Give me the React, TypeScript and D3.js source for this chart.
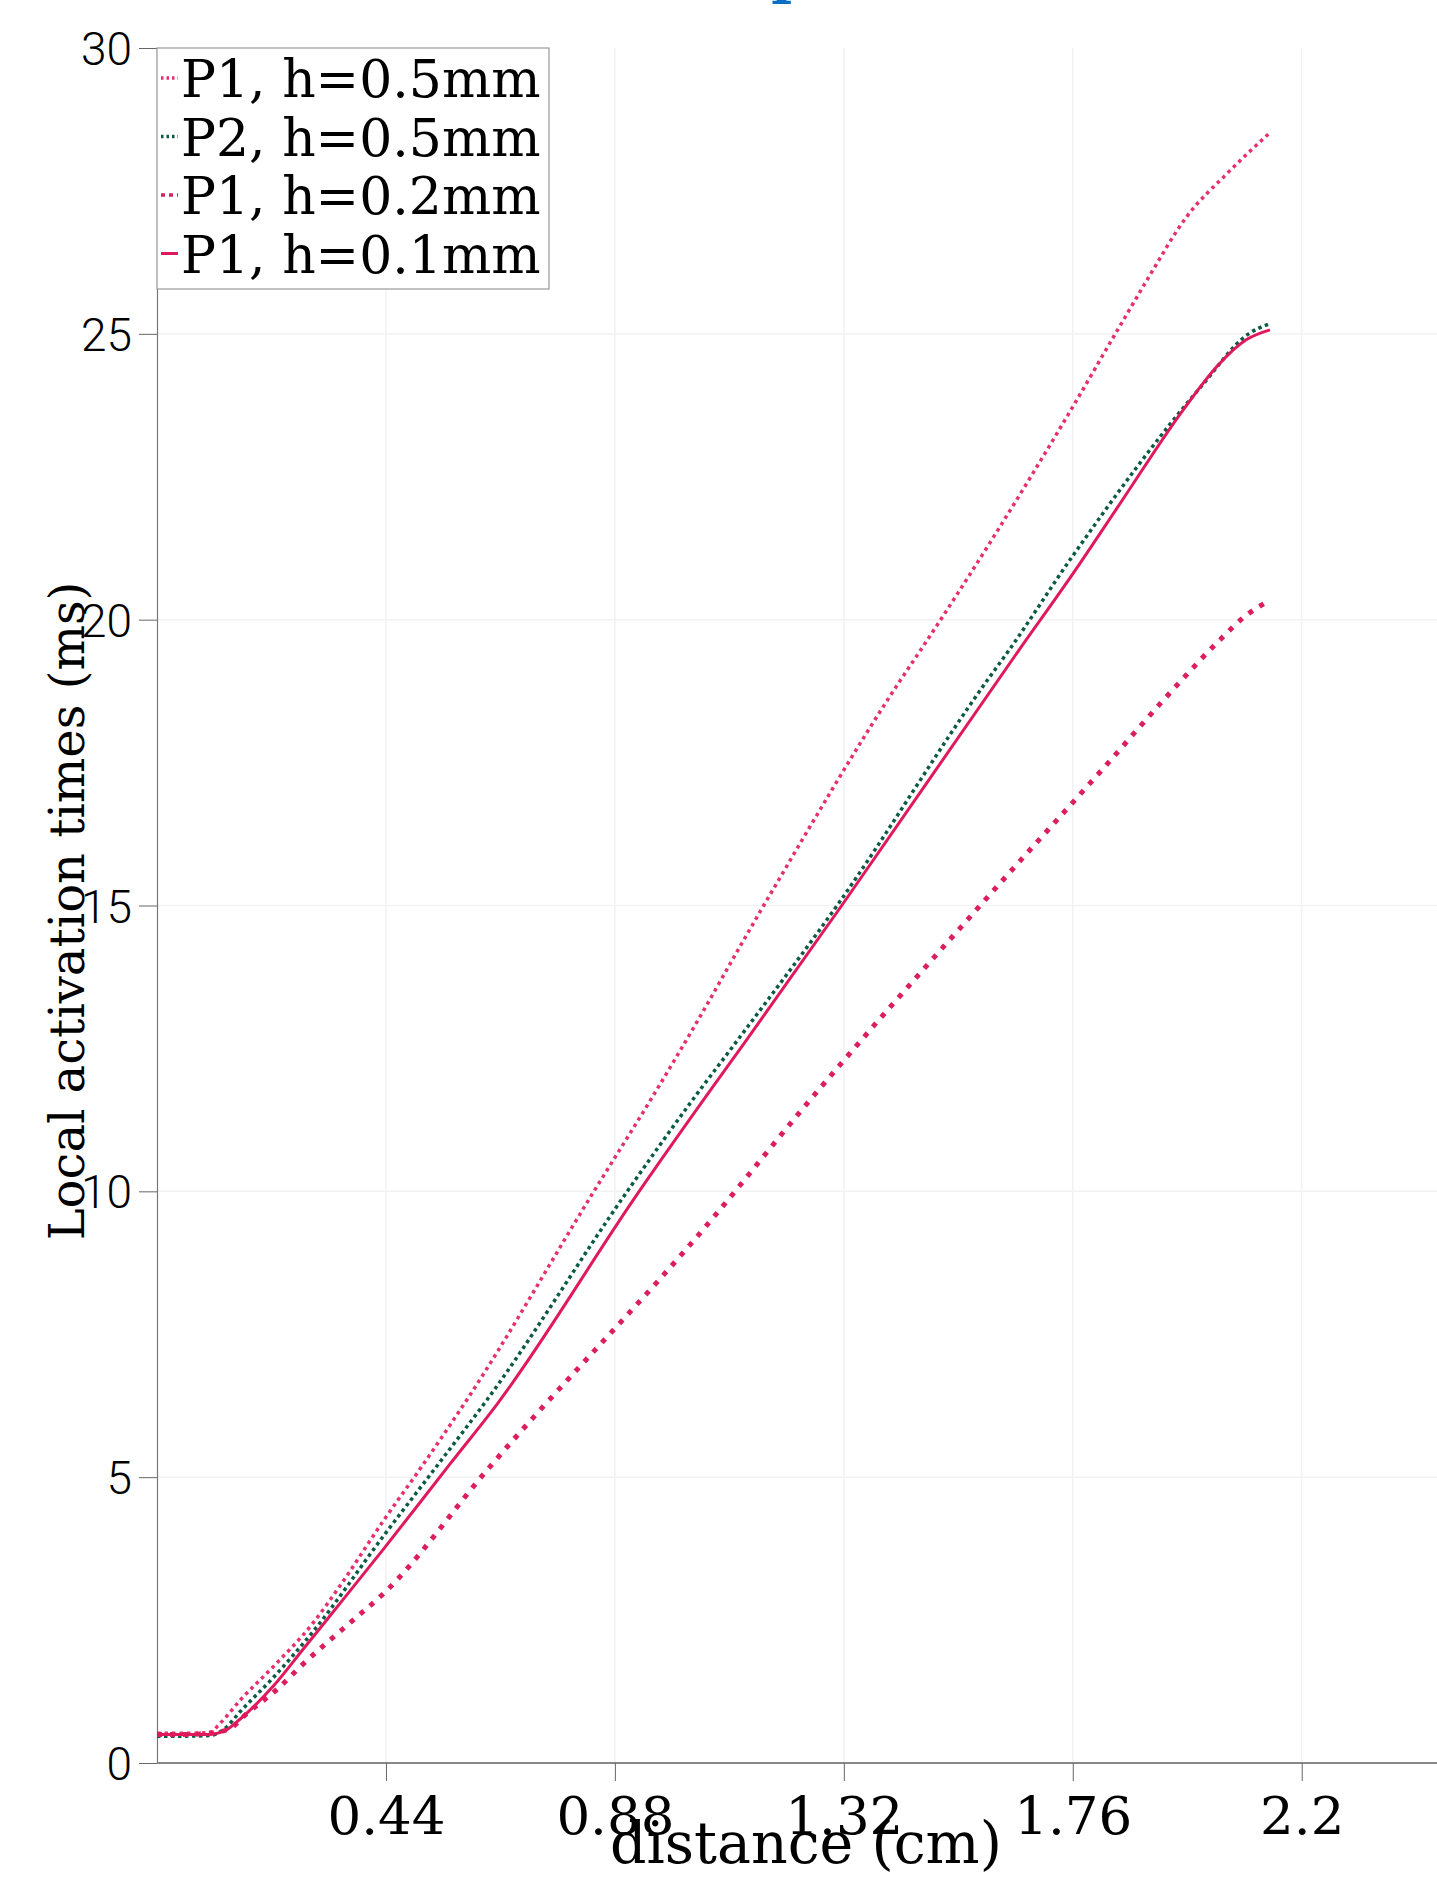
import React, { useRef, useEffect } from "react";
import * as d3 from "d3";

const width = 1437;
const height = 1887;

// tick values
const xTicks = [0.44, 0.88, 1.32, 1.76, 2.2];
const yTicks = [0, 5, 10, 15, 20, 25, 30];

// [distance (cm), local activation time (ms)]
const p1h05 = [
  [0, 0.52], [0.05, 0.52], [0.1, 0.53], [0.122, 0.7], [0.16, 1.1], [0.224, 1.69],
  [0.3, 2.45], [0.351, 3.09], [0.436, 4.25], [0.506, 5.15], [0.596, 6.36],
  [0.839, 9.99], [0.948, 11.59], [1.006, 12.47], [1.166, 15.0], [1.428, 18.93],
  [1.467, 19.46], [1.752, 23.6], [1.845, 25.05], [1.902, 25.93], [1.979, 27.05],
  [2.056, 27.8], [2.139, 28.52],
];
const p2h05 = [
  [0, 0.47], [0.05, 0.47], [0.1, 0.48], [0.13, 0.6], [0.16, 0.9], [0.224, 1.5],
  [0.3, 2.3], [0.436, 3.98], [0.545, 5.28], [0.634, 6.35], [0.903, 9.99],
  [1.031, 11.62], [1.108, 12.55], [1.307, 15.0], [1.595, 18.93], [1.637, 19.46],
  [1.758, 21.09], [2.005, 24.06], [2.098, 25.0], [2.139, 25.18],
];
const p1h02 = [
  [0, 0.5], [0.05, 0.5], [0.1, 0.52], [0.14, 0.6], [0.167, 0.82], [0.237, 1.34],
  [0.276, 1.69], [0.368, 2.43], [0.436, 2.97], [0.634, 5.12], [1.07, 9.55],
  [1.236, 11.39], [1.582, 15.0], [1.809, 17.3], [1.973, 18.98], [2.043, 19.65],
  [2.094, 20.08], [2.133, 20.31],
];
const p1h01 = [
  [0, 0.5], [0.05, 0.5], [0.1, 0.5], [0.13, 0.56], [0.16, 0.77], [0.224, 1.35],
  [0.28, 1.98], [0.333, 2.58], [0.436, 3.75], [0.564, 5.24], [0.653, 6.27],
  [0.926, 9.99], [1.063, 11.76], [1.127, 12.57], [1.316, 15.0], [1.656, 19.46],
  [1.76, 20.8], [1.845, 21.95], [1.973, 23.68], [2.037, 24.43], [2.094, 24.9],
  [2.139, 25.07],
];
const seriesNames = ["P1, h=0.5mm", "P2, h=0.5mm", "P1, h=0.2mm", "P1, h=0.1mm"];
const seriesData = [p1h05, p2h05, p1h02, p1h01];

const seriesStyle = [
  { color: "#e5306b", width: 3.5, dash: "3.5,4" },
  { color: "#0b5a45", width: 3.5, dash: "3.5,3.5" },
  { color: "#dc1d5e", width: 5, dash: "5,8" },
  { color: "#e0195c", width: 3, dash: null },
];

const title = "LAT comparison";
const serif = "'DejaVu Serif', serif";

function LatChart() {
  const svgRef = useRef(null);

  useEffect(() => {
    const svg = d3.select(svgRef.current);
    svg.selectAll("*").remove();

    const x = d3.scaleLinear().domain([0, 2.46]).range([157, 1437]);
    const y = d3.scaleLinear().domain([0, 30]).range([1763, 48]);

    // grid
    svg.append("g")
      .selectAll("line")
      .data(xTicks)
      .join("line")
      .attr("x1", d => x(d)).attr("x2", d => x(d))
      .attr("y1", y(30)).attr("y2", y(0))
      .attr("stroke", "#f2f2f2").attr("stroke-width", 1.5);
    svg.append("g")
      .selectAll("line")
      .data(yTicks.filter(d => d > 0 && d < 30))
      .join("line")
      .attr("x1", x(0)).attr("x2", width)
      .attr("y1", d => y(d)).attr("y2", d => y(d))
      .attr("stroke", "#f2f2f2").attr("stroke-width", 1.5);

    // x axis
    const xAxis = svg.append("g").attr("transform", `translate(0,${y(0)})`)
      .call(d3.axisBottom(x).tickValues(xTicks).tickSize(18).tickSizeOuter(0).tickFormat(d3.format("")));
    xAxis.select(".domain").attr("stroke", "#888").attr("stroke-width", 2)
      .attr("d", `M${x(0)},0H${width}`);
    xAxis.selectAll(".tick line").attr("stroke", "#666").attr("stroke-width", 1);
    xAxis.selectAll(".tick text")
      .attr("font-family", serif).attr("font-size", 53).attr("fill", "#000")
      .attr("dy", null).attr("y", 71);

    // y axis
    const yAxis = svg.append("g").attr("transform", `translate(${x(0)},0)`)
      .call(d3.axisLeft(y).tickValues(yTicks).tickSize(18).tickSizeOuter(0));
    yAxis.select(".domain").attr("stroke", "#777").attr("stroke-width", 1.2);
    yAxis.selectAll(".tick line").attr("stroke", "#666").attr("stroke-width", 1);
    yAxis.selectAll(".tick text")
      .attr("font-family", "Roboto, sans-serif").attr("font-weight", 300)
      .attr("font-size", 46).attr("fill", "#000")
      .attr("x", -25).attr("dy", "0.36em");

    // curves
    const line = d3.line()
      .x(d => x(d[0]))
      .y(d => y(d[1]))
      .curve(d3.curveMonotoneX);

    seriesData.forEach((data, i) => {
      const s = seriesStyle[i];
      svg.append("path")
        .datum(data)
        .attr("fill", "none")
        .attr("stroke", s.color)
        .attr("stroke-width", s.width)
        .attr("stroke-dasharray", s.dash)
        .attr("d", line);
    });

    // legend
    const legend = svg.append("g");
    legend.append("rect")
      .attr("x", x(0)).attr("y", y(30))
      .attr("width", 392).attr("height", 241)
      .attr("fill", "#fff").attr("stroke", "#999").attr("stroke-width", 1.2);
    seriesNames.forEach((name, i) => {
      const cy = 78 + i * 58.5;
      const s = seriesStyle[i];
      legend.append("line")
        .attr("x1", x(0) + 4).attr("x2", x(0) + 21)
        .attr("y1", cy).attr("y2", cy)
        .attr("stroke", s.color)
        .attr("stroke-width", Math.min(s.width, 3.5))
        .attr("stroke-dasharray", s.dash ? (i === 2 ? "4,4" : "2.5,3") : null);
      legend.append("text")
        .attr("x", x(0) + 24).attr("y", cy + 19)
        .attr("font-family", serif).attr("font-size", 52).attr("fill", "#000")
        .text(name);
    });

    // axis titles
    svg.append("text")
      .attr("x", 806).attr("y", 1863)
      .attr("text-anchor", "middle")
      .attr("font-family", serif).attr("font-size", 57).attr("fill", "#000")
      .text("distance (cm)");
    svg.append("text")
      .attr("transform", `translate(84,911) rotate(-90)`)
      .attr("text-anchor", "middle")
      .attr("font-family", serif).attr("font-size", 48).attr("fill", "#000")
      .text("Local activation times (ms)");

    // title, mostly above the visible area
    const t = svg.append("text")
      .attr("y", -8)
      .attr("font-family", serif).attr("font-weight", "bold")
      .attr("font-size", 56).attr("fill", "#0a6fc4")
      .text(title);
    const node = t.node();
    const idx = title.indexOf("p");
    const before = node.getSubStringLength(0, idx);
    const pw = node.getSubStringLength(idx, 1);
    t.attr("x", 785 - before - pw * 0.35);
  }, []);

  return (
    <svg
      ref={svgRef}
      width={width}
      height={height}
      style={{ position: "absolute", left: 0, top: 0, background: "#fff" }}
    ></svg>
  );
}

export default function App() {
  return <LatChart />;
}
